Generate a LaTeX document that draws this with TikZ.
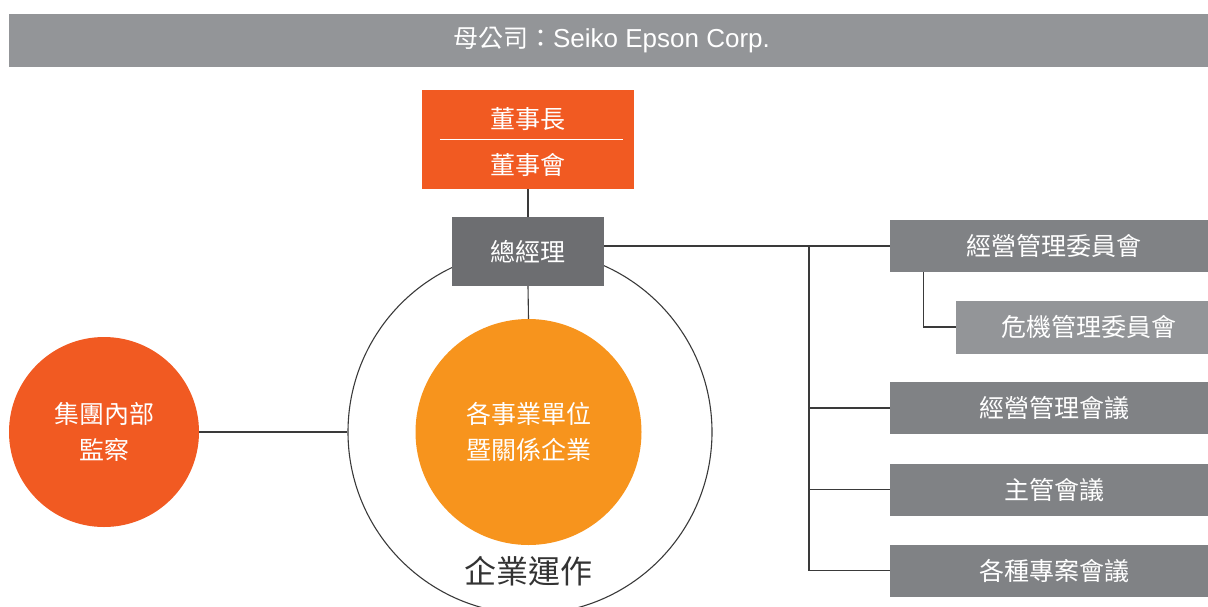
\documentclass[tikz,border=0pt]{standalone}
\usepackage{fontspec}
\setmainfont{Noto Sans CJK TC}
\newfontfamily\latinf{Liberation Sans}
\usetikzlibrary{calc}
\definecolor{orgred}{HTML}{F15A22}
\definecolor{orgyel}{HTML}{F7941D}
\definecolor{gdark}{HTML}{6D6E71}
\definecolor{gmid}{HTML}{808285}
\definecolor{glight}{HTML}{939598}
\definecolor{lnc}{HTML}{3A3A3A}
\definecolor{txtc}{HTML}{333333}
\tikzset{
  box/.style={rectangle, inner sep=0pt, text=white, font=\fontsize{25}{30}\selectfont},
  rbox/.style={box, fill=gmid, minimum width=318pt, minimum height=52pt},
  disc/.style={circle, inner sep=0pt, text=white, align=center, font=\fontsize{25}{36}\selectfont},
  conn/.style={draw=lnc, line width=1.1pt},
  lbl/.style={inner sep=0pt, text=white, font=\fontsize{25}{30}\selectfont}
}
\begin{document}
\begin{tikzpicture}[x=1pt,y=-1pt]
\useasboundingbox (0,0) rectangle (1208,606);
\clip (0,0) rectangle (1208,606);
% banner
\node[box, fill=glight, minimum width=1199pt, minimum height=53pt,
      font=\fontsize{25}{28}\selectfont] (banner) at (608.5,40.5)
      {\hspace*{6pt}母公司：{\latinf\fontsize{26}{28}\selectfont Seiko Epson Corp.}};
% big circle
\node[circle, draw=lnc, line width=1.1pt, minimum size=364pt, inner sep=0pt] (ops) at (530,432) {};
\node[inner sep=0pt, text=txtc, font=\fontsize{32}{36}\selectfont] (opslbl) at (528,571) {企業運作};
% chairman
\node[box, fill=orgred, minimum width=212pt, minimum height=99pt] (chair) at (528,139.5) {};
\node[lbl] (c1) at ($(chair.north)+(0,29)$) {董事長};
\node[lbl] (c2) at ($(chair.south)+(0,-24)$) {董事會};
\draw[white, line width=1.1pt] ($(chair.west)+(18,0)$) -- ($(chair.east)+(-11,0)$);
% general manager
\node[box, fill=gdark, minimum width=152pt, minimum height=69pt] (gm) at (528,251.5) {總經理};
% business circle
\node[disc, fill=orgyel, minimum size=226pt] (biz) at (528.5,432) {各事業單位\\暨關係企業};
% audit circle
\node[disc, fill=orgred, minimum size=190pt] (audit) at (104,432) {集團內部\\監察};
% right boxes
\node[rbox] (r1) at (1049,246) {\hspace*{10pt}經營管理委員會};
\node[box, fill=glight, minimum width=252pt, minimum height=53pt] (r2) at (1082,327) {\hspace*{14pt}危機管理委員會};
\node[rbox] (r3) at (1049,408) {\hspace*{10pt}經營管理會議};
\node[rbox] (r4) at (1049,489.5) {\hspace*{10pt}主管會議};
\node[rbox] (r5) at (1049,570.5) {\hspace*{10pt}各種專案會議};
% connectors
\draw[conn] (chair.south) -- (gm.north);
\draw[conn] (gm.south) -- (biz.north);
\draw[conn] (audit.east) -- (ops.west);
\draw[conn] (r1.west -| gm.east) -- (r1.west);
\coordinate (tk) at (809,246);
\draw[conn] (tk) |- (r5.west);
\draw[conn] (tk |- r3.west) -- (r3.west);
\draw[conn] (tk |- r4.west) -- (r4.west);
\draw[conn] ($(r1.south west)+(34,0)$) |- (r2.west);
\end{tikzpicture}
\end{document}
